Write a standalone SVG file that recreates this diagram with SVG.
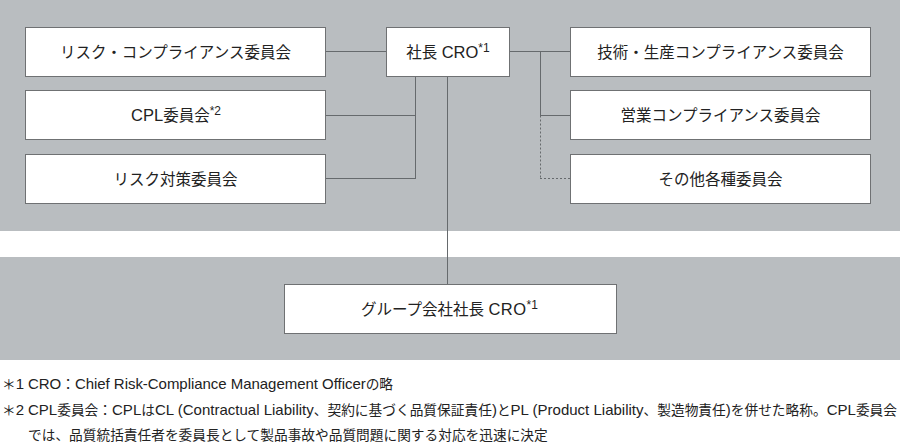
<svg xmlns="http://www.w3.org/2000/svg" width="900" height="447" viewBox="0 0 900 447">
<style>
.band{fill:#b9bdc0}
.box{fill:#ffffff;stroke:#6f7173;stroke-width:1}
.lbl{font-family:"Liberation Sans","Noto Sans CJK JP",sans-serif;font-size:15.5px;fill:#222;text-anchor:middle;dominant-baseline:central}
.lbl .en{font-size:16.5px}
.lbl .sup{font-size:12px}
.ln{stroke:#666a6d;stroke-width:1;fill:none}
.dash{stroke:#666a6d;stroke-width:1;fill:none;stroke-dasharray:2 2}
.note{font-family:"Liberation Sans","Noto Sans CJK JP",sans-serif;font-size:13.7px;fill:#222}
.note .en{font-size:15px}
</style>
<rect x="0" y="0" width="900" height="447" fill="#ffffff"/>
<rect class="band" x="0" y="0" width="900" height="231"/>
<rect class="band" x="0" y="257" width="900" height="103"/>
<g id="connectors">
<line class="ln" x1="326" y1="51.5" x2="386" y2="51.5"/>
<line class="ln" x1="415.5" y1="76" x2="415.5" y2="178.5"/>
<line class="ln" x1="326" y1="115.5" x2="415.5" y2="115.5"/>
<line class="ln" x1="326" y1="178.5" x2="416" y2="178.5"/>
<line class="ln" x1="447.5" y1="76" x2="447.5" y2="284"/>
<line class="ln" x1="510" y1="51.5" x2="570" y2="51.5"/>
<line class="ln" x1="540.5" y1="51.5" x2="540.5" y2="115.5"/>
<line class="ln" x1="540" y1="115.5" x2="570" y2="115.5"/>
<line class="dash" x1="540.5" y1="115.5" x2="540.5" y2="178.5"/>
<line class="dash" x1="540" y1="178.5" x2="570" y2="178.5"/>
</g>
<g id="risk-compliance">
<rect class="box" x="25.5" y="27.5" width="300" height="49"/>
<text class="lbl" x="175.5" y="52">リスク・コンプライアンス委員会</text>
</g>
<g id="cpl">
<rect class="box" x="25.5" y="90.5" width="300" height="49"/>
<text class="lbl" x="176" y="115"><tspan class="en">CPL</tspan>委員会<tspan class="sup" dy="-4">*2</tspan></text>
</g>
<g id="risk-taisaku">
<rect class="box" x="25.5" y="154.5" width="300" height="49"/>
<text class="lbl" x="175.5" y="179">リスク対策委員会</text>
</g>
<g id="president">
<rect class="box" x="386.5" y="27.5" width="123" height="49"/>
<text class="lbl" x="448" y="52">社長 <tspan class="en">CRO</tspan><tspan class="sup" dy="-4">*1</tspan></text>
</g>
<g id="tech-compliance">
<rect class="box" x="570.5" y="27.5" width="300" height="49"/>
<text class="lbl" x="720.5" y="52">技術・生産コンプライアンス委員会</text>
</g>
<g id="sales-compliance">
<rect class="box" x="570.5" y="90.5" width="300" height="49"/>
<text class="lbl" x="720.5" y="115">営業コンプライアンス委員会</text>
</g>
<g id="others">
<rect class="box" x="570.5" y="154.5" width="300" height="49"/>
<text class="lbl" x="720.5" y="179">その他各種委員会</text>
</g>
<g id="group-president">
<rect class="box" x="284.5" y="284.5" width="332" height="49"/>
<text class="lbl" x="449.5" y="309">グループ会社社長 <tspan class="en" letter-spacing="0.5">CRO</tspan><tspan class="sup" dy="-4">*1</tspan></text>
</g>
<g id="notes">
<text class="note" x="2" y="389">＊<tspan class="en">1</tspan></text>
<text class="note" x="28" y="389" textLength="365" lengthAdjust="spacing"><tspan class="en">CRO</tspan>：<tspan class="en">Chief Risk-Compliance Management Officer</tspan>の略</text>
<text class="note" x="2" y="415">＊<tspan class="en">2</tspan></text>
<text class="note" x="28" y="415" textLength="869" lengthAdjust="spacing"><tspan class="en">CPL</tspan>委員会：<tspan class="en">CPL</tspan>は<tspan class="en">CL (Contractual Liability</tspan>、契約に基づく品質保証責任<tspan class="en">)</tspan>と<tspan class="en">PL (Product Liability</tspan>、製造物責任<tspan class="en">)</tspan>を併せた略称。<tspan class="en">CPL</tspan>委員会</text>
<text class="note" x="28" y="440">では、品質統括責任者を委員長として製品事故や品質問題に関する対応を迅速に決定</text>
</g>
</svg>
